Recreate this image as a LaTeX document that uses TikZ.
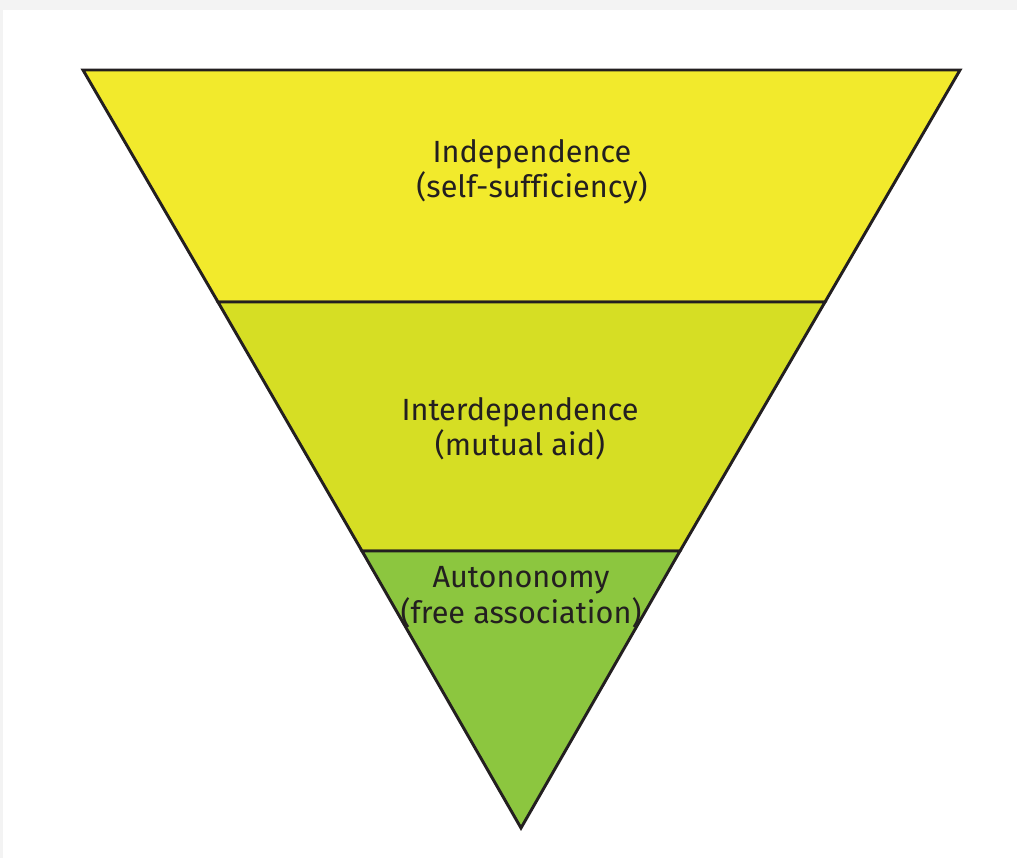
\documentclass[tikz,border=0pt]{standalone}
\usepackage{fontspec}
\setmainfont[Ligatures=NoCommon]{Fira Sans}
\definecolor{TopYellow}{HTML}{F2EA2C}
\definecolor{MidYellow}{HTML}{D6DE24}
\definecolor{LowGreen}{HTML}{8CC63F}
\definecolor{InkDark}{HTML}{231F20}
\definecolor{Haze}{HTML}{F3F3F3}

\begin{document}
\begin{tikzpicture}[x=0.75pt,y=-0.75pt,
  band/.style={draw=InkDark,line width=2.2pt,line join=miter},
  label/.style={align=center,text=InkDark,font=\fontsize{23}{26.5}\selectfont}]
  \useasboundingbox (0,0) rectangle (1017,858);
  \fill[white] (0,0) rectangle (1017,858);
  \fill[Haze] (0,0) rectangle (1017,10);
  \fill[Haze] (0,0) rectangle (3,858);

  % Band 0: Independence (top)
  \draw[band,fill=TopYellow] (83,70) -- (960,70) -- (825,302) -- (218,302) -- cycle;
  \node[label] (indep) at (532,172) {Independence\\(self-sufficiency)};

  % Band 1: Interdependence
  \draw[band,fill=MidYellow] (218,302) -- (825,302) -- (680,551) -- (362,551) -- cycle;
  \node[label] (inter) at (520,429) {Interdependence\\(mutual aid)};

  % Band 2: Autonomy (tip)
  \draw[band,fill=LowGreen] (362,551) -- (680,551) -- (521,828) -- cycle;
  \node[label] (auto) at (521,597) {Autononomy\\(free association)};
\end{tikzpicture}
\end{document}
